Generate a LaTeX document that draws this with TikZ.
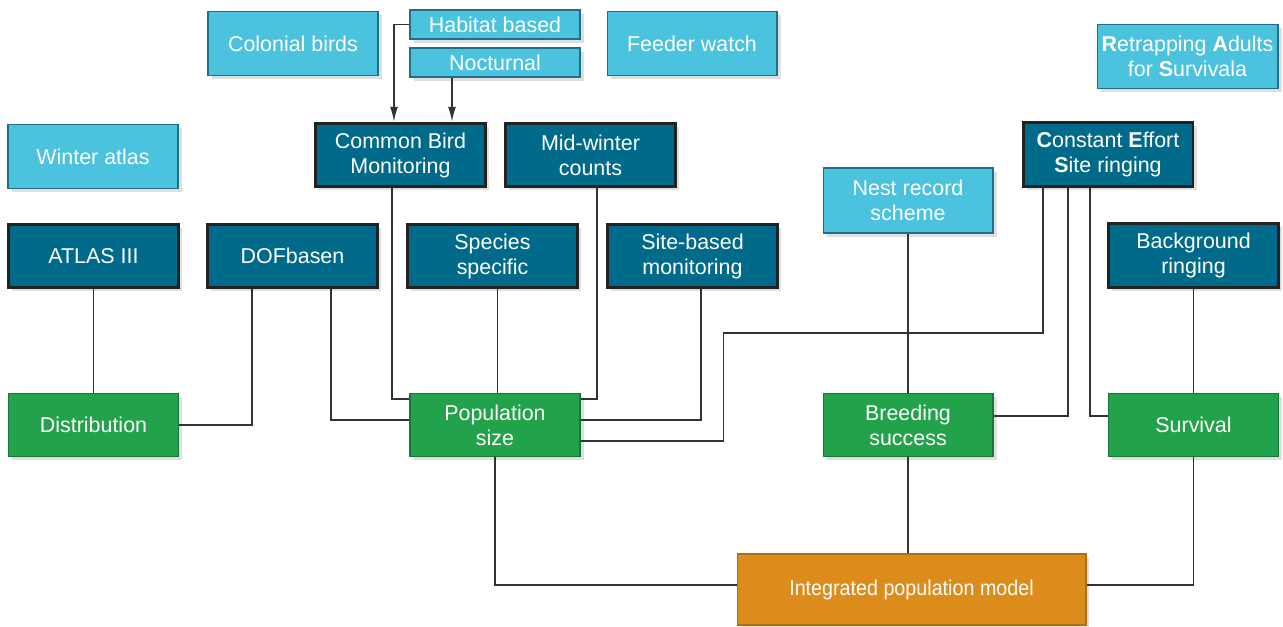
\documentclass[tikz,border=0pt]{standalone}
\usepackage{fontspec}
\setmainfont{Liberation Sans}
\usetikzlibrary{arrows.meta,shadows}

\definecolor{liteblue}{HTML}{4BC2DE}
\definecolor{liteedge}{HTML}{1F6F86}
\definecolor{darkteal}{HTML}{006A8A}
\definecolor{darkedge}{HTML}{222222}
\definecolor{birdgreen}{HTML}{22A24A}
\definecolor{greenedge}{HTML}{17773A}
\definecolor{modelorange}{HTML}{DC8C1A}
\definecolor{orangeedge}{HTML}{B06E12}
\definecolor{linkgray}{HTML}{333333}

\tikzset{
  basebox/.style={rectangle, text=white, align=center, inner sep=2pt,
    minimum width=3.4cm, minimum height=1.27cm,
    font=\fontsize{12.2}{14.2}\selectfont,
    drop shadow={opacity=0.25, shadow xshift=2pt, shadow yshift=-2pt}},
  litebox/.style={basebox, fill=liteblue, draw=liteedge, line width=0.6pt},
  darkbox/.style={basebox, fill=darkteal, draw=darkedge, line width=1.7pt},
  greenbox/.style={basebox, fill=birdgreen, draw=greenedge, line width=0.6pt},
  modelbox/.style={basebox, fill=modelorange, draw=orangeedge, line width=0.6pt,
    minimum width=6.98cm, minimum height=1.42cm},
  link/.style={draw=linkgray, line width=0.9pt},
  feed/.style={link, -{Latex[length=3mm,width=1.6mm]}}
}

\begin{document}
\begin{tikzpicture}[x=0.02cm, y=-0.02cm]
  \useasboundingbox (0,0) rectangle (1283,626);

  % Top row of light boxes
  \node[litebox] (colonial) at (293, 43.5) {Colonial birds};
  \node[litebox, minimum height=0.58cm] (habitat) at (495, 24.5) {Habitat based};
  \node[litebox, minimum height=0.58cm] (noct) at (495, 62.5) {Nocturnal};
  \node[litebox] (feeder) at (692, 43.5) {Feeder watch};
  \node[litebox, minimum width=3.62cm] (ras) at (1187.5, 56.5)
    {\textbf{R}etrapping \textbf{A}dults\\for \textbf{S}urvivala};

  % Monitoring schemes
  \node[litebox] (winter) at (93, 156.5) {Winter atlas};
  \node[darkbox] (cbm) at (400.5, 155) {Common Bird\\Monitoring};
  \node[darkbox] (midwinter) at (590.5, 155) {Mid-winter\\counts};
  \node[darkbox] (ces) at (1108, 154.5) {\textbf{C}onstant \textbf{E}ffort\\\textbf{S}ite ringing};
  \node[litebox, minimum height=1.3cm] (nest) at (908, 200.5) {Nest record\\scheme};

  \node[darkbox] (atlas) at (93.5, 256) {ATLAS III};
  \node[darkbox] (dof) at (292.5, 256) {DOFbasen};
  \node[darkbox] (species) at (492.5, 256) {Species\\specific};
  \node[darkbox] (site) at (692.5, 256) {Site-based\\monitoring};
  \node[darkbox] (background) at (1193.5, 255.5) {Background\\ringing};

  % Demographic quantities
  \node[greenbox] (dist) at (93.5, 425) {Distribution};
  \node[greenbox] (pop) at (495, 425) {Population\\size};
  \node[greenbox] (breed) at (908, 425) {Breeding\\success};
  \node[greenbox] (surv) at (1193.5, 425) {Survival};

  % Model
  \node[modelbox] (ipm) at (911.5, 589.5) {\addfontfeature{FakeStretch=0.92}Integrated population model};

  % Arrows into Common Bird Monitoring
  \draw[feed] (habitat.west) -| ([xshift=-0.13cm]cbm.north);
  \draw[feed] ([xshift=-0.86cm]noct.south) -- ([xshift=-0.86cm]noct.south |- cbm.north);

  % Links to distribution
  \draw[link] (atlas.south) -- (dist.north);
  \draw[link] ([xshift=-0.81cm]dof.south) |- (dist.east);

  % Links to population size
  \draw[link] ([xshift=0.77cm]dof.south) |- ([yshift=0.1cm]pop.west);
  \draw[link] ([xshift=-0.17cm]cbm.south) |- ([yshift=0.52cm]pop.west);
  \draw[link] ([xshift=0.1cm]species.south) -- ([xshift=0.1cm]species.south |- pop.north);
  \draw[link] ([xshift=0.13cm]midwinter.south) |- ([yshift=0.52cm]pop.east);
  \draw[link] ([xshift=0.17cm]site.south) |- ([yshift=0.1cm]pop.east);
  \draw[link] ([xshift=-1.3cm]ces.south) |- ([xshift=2.86cm, yshift=1.84cm]pop.east)
    |- ([yshift=-0.32cm]pop.east);

  % Links to breeding success and survival
  \draw[link] (nest.south) -- (breed.north);
  \draw[link] ([xshift=-0.8cm]ces.south) |- ([yshift=0.18cm]breed.east);
  \draw[link] ([xshift=-0.36cm]ces.south) |- ([yshift=0.18cm]surv.west);
  \draw[link] (background.south) -- (surv.north);

  % Links into the model
  \draw[link] (pop.south) |- ([yshift=0.09cm]ipm.west);
  \draw[link] (breed.south) -- (breed.south |- ipm.north);
  \draw[link] (surv.south) |- ([yshift=0.09cm]ipm.east);
\end{tikzpicture}
\end{document}
